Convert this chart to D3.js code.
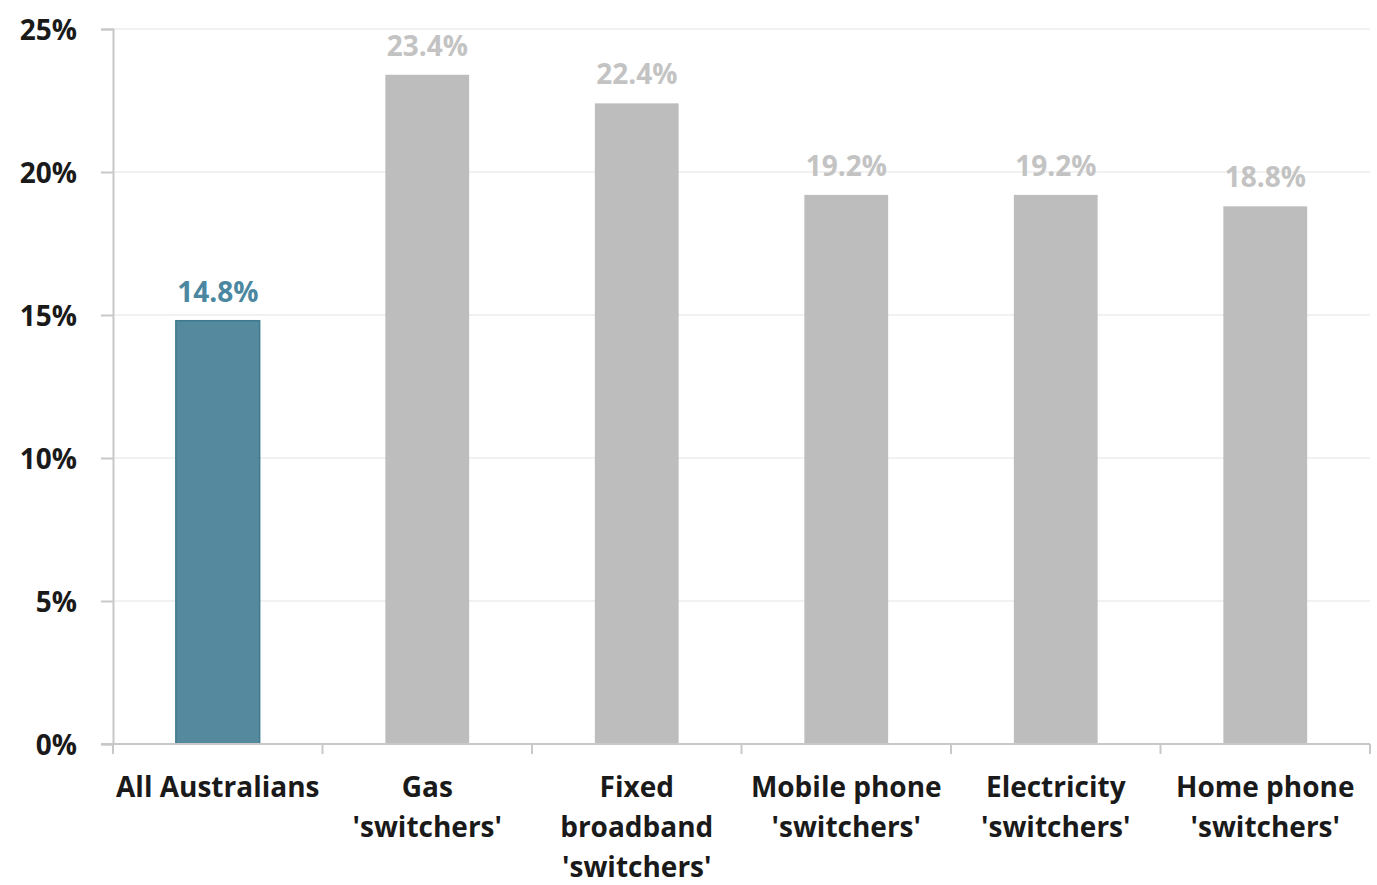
<!DOCTYPE html>
<html>
<head>
<meta charset="utf-8">
<script src="https://cdn.jsdelivr.net/npm/d3@7"></script>
<style>
  body { margin: 0; background: #fff; }
  text { font-family: "Open Sans", Lato, sans-serif; font-weight: bold; }
</style>
</head>
<body>
<svg id="chart" width="1377" height="885"></svg>
<script>
// chart values
var categories = [
  ['All Australians'],
  ['Gas', "'switchers'"],
  ['Fixed', 'broadband', "'switchers'"],
  ['Mobile phone', "'switchers'"],
  ['Electricity', "'switchers'"],
  ['Home phone', "'switchers'"]
];
var values = [14.8, 23.4, 22.4, 19.2, 19.2, 18.8];
var yTicks = [0, 5, 10, 15, 20, 25];

var margin = {left: 113, right: 7, top: 29, bottom: 141};
var width = 1377, height = 885;
var fontSize = 28;

var svg = d3.select('#chart');

var x = d3.scaleBand()
  .domain(d3.range(categories.length))
  .range([margin.left, width - margin.right])
  .paddingInner(0.6)
  .paddingOuter(0.3);

var y = d3.scaleLinear()
  .domain([0, 25])
  .range([height - margin.bottom, margin.top]);

// faint gridlines
svg.append('g')
  .selectAll('line')
  .data(yTicks.slice(1))
  .enter()
  .append('line')
  .attr('x1', margin.left)
  .attr('x2', width - margin.right)
  .attr('y1', function(d) { return y(d); })
  .attr('y2', function(d) { return y(d); })
  .attr('stroke', '#ececec')
  .attr('stroke-width', 1.5);

// bars
svg.append('g')
  .selectAll('rect')
  .data(values)
  .enter()
  .append('rect')
  .attr('x', function(d, i) { return x(i); })
  .attr('y', function(d) { return y(d); })
  .attr('width', x.bandwidth())
  .attr('height', function(d) { return y(0) - y(d); })
  .attr('fill', function(d, i) { return i === 0 ? '#55899d' : '#bcbdbc'; })
  .attr('stroke', function(d, i) { return i === 0 ? '#3f7a90' : 'none'; })
  .attr('stroke-width', 1.5);

// value labels
svg.append('g')
  .selectAll('text')
  .data(values)
  .enter()
  .append('text')
  .attr('x', function(d, i) { return x(i) + x.bandwidth() / 2; })
  .attr('y', function(d) { return y(d) - 19; })
  .attr('text-anchor', 'middle')
  .attr('font-size', fontSize)
  .attr('fill', function(d, i) { return i === 0 ? '#4b87a0' : '#c3c3c3'; })
  .text(function(d) { return d.toFixed(1) + '%'; });

// y axis
var yAxis = svg.append('g')
  .attr('transform', 'translate(' + margin.left + ',0)')
  .call(d3.axisLeft(y).tickValues(yTicks).tickSize(12).tickFormat(function(d) { return d + '%'; }));
yAxis.selectAll('.domain').attr('stroke', '#c8c8c8').attr('stroke-width', 2);
yAxis.selectAll('.tick line').attr('stroke', '#c8c8c8').attr('stroke-width', 2);
yAxis.selectAll('.tick text')
  .attr('font-size', fontSize)
  .attr('font-family', '"Open Sans", sans-serif')
  .attr('font-weight', 'bold')
  .attr('fill', '#1a1a1a')
  .attr('x', -36)
  .attr('dy', '0.36em');

// x axis line with boundary ticks
var bounds = d3.range(categories.length + 1).map(function(i) {
  return margin.left + i * (width - margin.right - margin.left) / categories.length;
});
var xAxis = svg.append('g');
xAxis.append('line')
  .attr('x1', margin.left - 12)
  .attr('x2', width - margin.right)
  .attr('y1', y(0))
  .attr('y2', y(0))
  .attr('stroke', '#c8c8c8')
  .attr('stroke-width', 2);
xAxis.selectAll('line.tk')
  .data(bounds)
  .enter()
  .append('line')
  .attr('class', 'tk')
  .attr('x1', function(d) { return d; })
  .attr('x2', function(d) { return d; })
  .attr('y1', y(0))
  .attr('y2', y(0) + 10)
  .attr('stroke', '#c8c8c8')
  .attr('stroke-width', 2);

// category labels
var labels = xAxis.selectAll('text.cat')
  .data(categories)
  .enter()
  .append('text')
  .attr('class', 'cat')
  .attr('text-anchor', 'middle')
  .attr('font-size', fontSize)
  .attr('fill', '#1a1a1a')
  .attr('transform', function(d, i) {
    return 'translate(' + (x(i) + x.bandwidth() / 2) + ',' + (y(0) + 53) + ')';
  });
labels.selectAll('tspan')
  .data(function(d) { return d; })
  .enter()
  .append('tspan')
  .attr('x', 0)
  .attr('dy', function(d, i) { return i === 0 ? 0 : 40; })
  .text(function(d) { return d; });
</script>
</body>
</html>
